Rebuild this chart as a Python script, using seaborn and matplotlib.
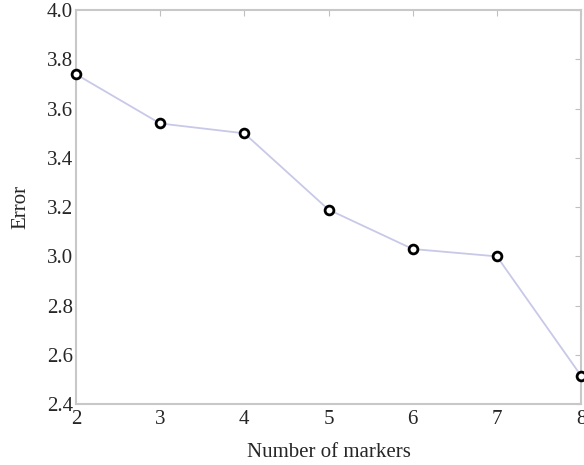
import matplotlib
matplotlib.use('Agg')
import matplotlib.pyplot as plt
import seaborn as sns
import pandas as pd

# Data
markers = [2, 3, 4, 5, 6, 7, 8]
error = [3.74, 3.54, 3.50, 3.19, 3.03, 3.00, 2.515]
xticks = [2, 3, 4, 5, 6, 7, 8]
yticks = [2.4, 2.6, 2.8, 3.0, 3.2, 3.4, 3.6, 3.8, 4.0]

df = pd.DataFrame({'Number of markers': markers, 'Error': error})

sns.set_style('white')
plt.rcParams['font.family'] = ['Liberation Serif', 'DejaVu Serif']

fig = plt.figure(figsize=(5.84, 4.65), dpi=100)
ax = fig.add_axes([0.13, 0.131, 0.865, 0.847])

sns.lineplot(data=df, x='Number of markers', y='Error', ax=ax,
             color='#c8c8e8', linewidth=1.3)
sns.scatterplot(data=df, x='Number of markers', y='Error', ax=ax,
                facecolor='white', edgecolor='black', linewidth=2, s=40,
                zorder=5, clip_on=False)

ax.set_xlim(2, 8)
ax.set_ylim(2.4, 4.0)
ax.set_xticks(xticks)
ax.set_yticks(yticks)
ax.set_yticklabels([f'{v:.1f}' for v in yticks])
ax.tick_params(direction='in', length=4, color='#c0c0c0', labelsize=15,
               top=True, right=True)
ax.tick_params(axis='y', pad=2)
ax.tick_params(axis='x', pad=4)
for s in ax.spines.values():
    s.set_color('#c8c8c8')
    s.set_linewidth(1.5)
ax.set_xlabel('Number of markers', fontsize=15, labelpad=10)
ax.set_ylabel('Error', fontsize=15, labelpad=12)

fig.savefig('out.png', dpi=100)
